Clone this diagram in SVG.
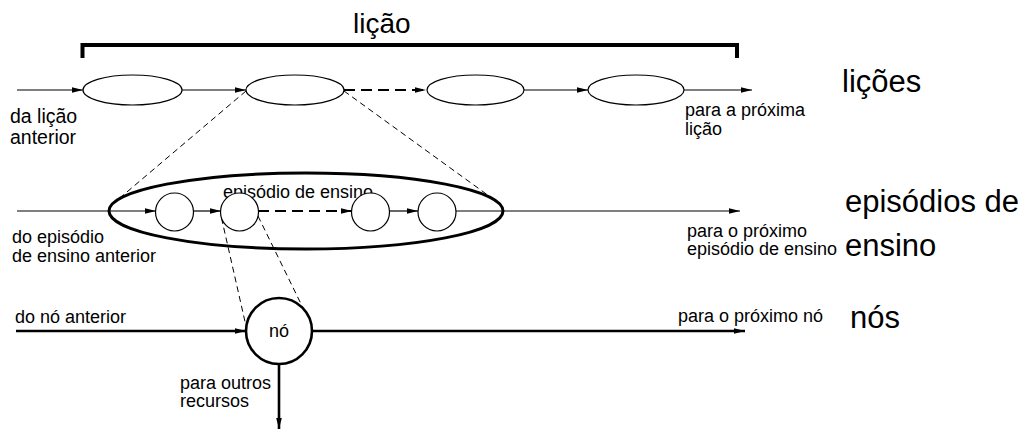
<svg xmlns="http://www.w3.org/2000/svg" width="1032" height="431" viewBox="0 0 1032 431">
<style>
text{font-family:"Liberation Sans",Arial,sans-serif;fill:#000}
.s{font-size:18px}
.m{font-size:19.5px}
.b{font-size:31px}
.t{font-size:28px}
.ln{stroke:#000;stroke-width:1.2;fill:none}
.lnb{stroke:#000;stroke-width:2.6;fill:none}
.dsh{stroke:#000;stroke-width:2;fill:none;stroke-dasharray:11 6}
.prj{stroke:#000;stroke-width:1;fill:none;stroke-dasharray:6 4}
.nd{fill:#fff;stroke:#000;stroke-width:1.2}
</style>
<defs>
<marker id="a" markerUnits="userSpaceOnUse" markerWidth="12" markerHeight="8" refX="11" refY="4" orient="auto">
<path d="M0,1.2 L11,4 L0,6.8 Z" fill="#000"/>
</marker>
</defs>
<g id="title">
<text class="t" x="353" y="33">lição</text>
<path d="M82.5,58 V45 H737 V58" stroke="#000" stroke-width="4" fill="none"/>
</g>
<g id="connectors">
<line class="ln" x1="17" y1="90" x2="83" y2="90" marker-end="url(#a)"/>
<line class="ln" x1="182" y1="90" x2="246" y2="90" marker-end="url(#a)"/>
<line class="dsh" x1="344" y1="90" x2="426" y2="90" marker-end="url(#a)"/>
<line class="ln" x1="524" y1="90" x2="588" y2="90" marker-end="url(#a)"/>
<line class="ln" x1="684" y1="90" x2="752" y2="90" marker-end="url(#a)"/>
<line class="prj" x1="246" y1="91" x2="121" y2="197"/>
<line class="prj" x1="344" y1="91" x2="489" y2="196"/>
<line class="ln" x1="17" y1="211" x2="156" y2="211" marker-end="url(#a)"/>
<line class="ln" x1="193" y1="211" x2="221" y2="211" marker-end="url(#a)"/>
<line class="dsh" x1="258" y1="211" x2="352" y2="211" marker-end="url(#a)"/>
<line class="ln" x1="389" y1="211" x2="418" y2="211" marker-end="url(#a)"/>
<line class="ln" x1="456" y1="211" x2="740" y2="211" marker-end="url(#a)"/>
<line class="prj" x1="221.5" y1="218" x2="246" y2="326"/>
<line class="prj" x1="258" y1="216" x2="303" y2="308"/>
<line class="lnb" x1="16" y1="331" x2="246" y2="331" marker-end="url(#a)"/>
<line class="lnb" x1="312" y1="331" x2="745" y2="331" marker-end="url(#a)"/>
<line class="lnb" x1="279" y1="364" x2="279" y2="429" marker-end="url(#a)"/>
</g>
<g id="licao1"><ellipse class="nd" cx="132.5" cy="90" rx="49.5" ry="15"/></g>
<g id="licao2"><ellipse class="nd" cx="295" cy="90" rx="49" ry="15"/></g>
<g id="licao3"><ellipse class="nd" cx="475.5" cy="90" rx="48.5" ry="15"/></g>
<g id="licao4"><ellipse class="nd" cx="636" cy="90" rx="48" ry="15"/></g>
<g id="episodio">
<ellipse cx="306" cy="211" rx="197" ry="38" fill="none" stroke="#000" stroke-width="3"/>
<text class="s" x="223" y="198">episódio de ensino</text>
</g>
<g id="ep1"><circle class="nd" cx="174.5" cy="212" r="19"/></g>
<g id="ep2"><circle class="nd" cx="239.5" cy="212" r="19"/></g>
<g id="ep3"><circle class="nd" cx="370.5" cy="212" r="19"/></g>
<g id="ep4"><circle class="nd" cx="437" cy="212" r="19"/></g>
<g id="no">
<circle cx="279" cy="331" r="33" fill="#fff" stroke="#000" stroke-width="2.6"/>
<text class="s" x="279" y="337" text-anchor="middle">nó</text>
</g>
<g id="labels">
<text class="m" x="10" y="123">da lição</text>
<text class="m" x="10" y="144">anterior</text>
<text class="s" x="685" y="116">para a próxima</text>
<text class="s" x="685" y="135">lição</text>
<text class="b" x="842" y="92">lições</text>
<text class="s" x="12" y="243">do episódio</text>
<text class="s" x="12" y="262">de ensino anterior</text>
<text class="s" x="687" y="237">para o próximo</text>
<text class="s" x="687" y="255">episódio de ensino</text>
<text class="b" x="845" y="212">episódios de</text>
<text class="b" x="845" y="256">ensino</text>
<text class="s" x="15" y="323">do nó anterior</text>
<text class="s" x="678" y="322">para o próximo nó</text>
<text class="b" x="850" y="328">nós</text>
<text class="s" x="180" y="389">para outros</text>
<text class="s" x="180" y="407">recursos</text>
</g>
</svg>
